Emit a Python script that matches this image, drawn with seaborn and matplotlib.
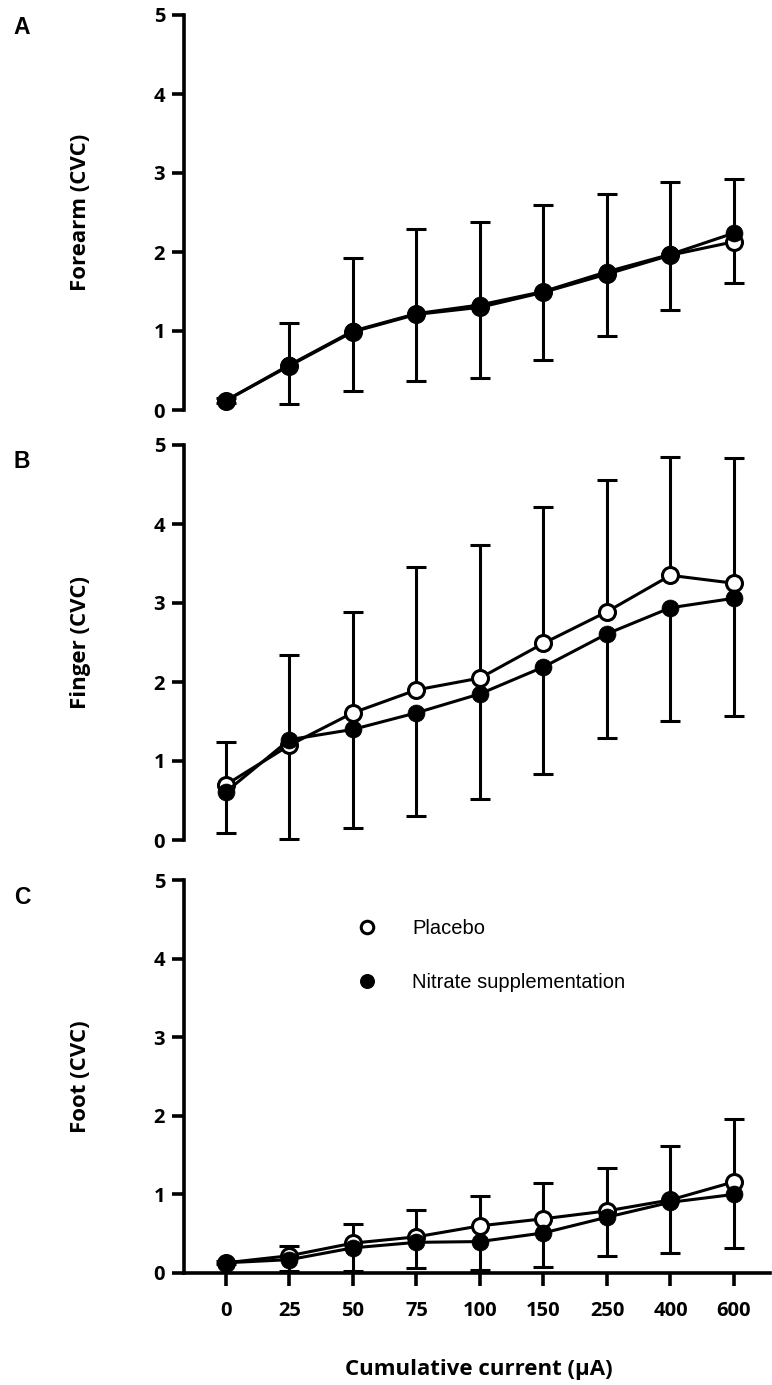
import numpy as np
import pandas as pd
import matplotlib
matplotlib.use("Agg")
import matplotlib.pyplot as plt
import seaborn as sns
from matplotlib.lines import Line2D

# ---------------- data ----------------
currents = ["0", "25", "50", "75", "100", "150", "250", "400", "600"]

forearm_placebo = [0.12, 0.56, 0.99, 1.21, 1.30, 1.49, 1.72, 1.96, 2.13]
forearm_nitrate = [0.12, 0.57, 1.00, 1.22, 1.33, 1.50, 1.75, 1.97, 2.24]
forearm_placebo_err = [0.03, 0.54, 0.94, 1.08, 1.08, 1.10, 1.01, 0.92, 0.80]
forearm_nitrate_err = [0.03, 0.49, 0.76, 0.85, 0.92, 0.87, 0.81, 0.70, 0.63]

finger_placebo = [0.70, 1.20, 1.61, 1.90, 2.05, 2.49, 2.89, 3.35, 3.25]
finger_nitrate = [0.61, 1.27, 1.40, 1.61, 1.85, 2.19, 2.61, 2.94, 3.06]
finger_placebo_err = [0.54, 1.14, 1.28, 1.55, 1.68, 1.72, 1.67, 1.50, 1.58]
finger_nitrate_err = [0.52, 1.26, 1.25, 1.31, 1.33, 1.35, 1.32, 1.43, 1.49]

foot_placebo = [0.13, 0.22, 0.38, 0.46, 0.60, 0.69, 0.79, 0.93, 1.16]
foot_nitrate = [0.13, 0.17, 0.32, 0.39, 0.40, 0.51, 0.71, 0.90, 1.00]
foot_placebo_err = [0.02, 0.12, 0.24, 0.34, 0.38, 0.45, 0.55, 0.69, 0.80]
foot_nitrate_err = [0.02, 0.15, 0.30, 0.33, 0.36, 0.43, 0.50, 0.65, 0.68]

panel_letters = ["A", "B", "C"]
ylabels = ["Forearm (CVC)", "Finger (CVC)", "Foot (CVC)"]
yticks = [0, 1, 2, 3, 4, 5]
group_names = ["Placebo", "Nitrate supplementation"]
xlabel = "Cumulative current (\u00b5A)"

# ---------------- style ----------------
sns.set_style("ticks")
plt.rcParams["font.family"] = ["Open Sans", "DejaVu Sans"]
plt.rcParams["font.weight"] = "bold"
plt.rcParams["axes.labelweight"] = "bold"
plt.rcParams["text.color"] = "black"
plt.rcParams["axes.labelcolor"] = "black"
plt.rcParams["axes.edgecolor"] = "black"
plt.rcParams["xtick.color"] = "black"
plt.rcParams["ytick.color"] = "black"

W, H = 772, 1385
fig = plt.figure(figsize=(W / 100, H / 100), dpi=100)

# axes rectangles from pixel geometry
left_px, right_px = 184, 770
panel_px = [(15, 410), (445, 840), (880, 1273)]

panels = [
    (forearm_placebo, forearm_nitrate, forearm_placebo_err, forearm_nitrate_err),
    (finger_placebo, finger_nitrate, finger_placebo_err, finger_nitrate_err),
    (foot_placebo, foot_nitrate, foot_placebo_err, foot_nitrate_err),
]

pos = np.arange(len(currents))
spine_w = 2.6
line_w = 2.2
letter_y = [28, 461, 897]

axes = []
for i, (pl, ni, pl_e, ni_e) in enumerate(panels):
    top, bot = panel_px[i]
    ax = fig.add_axes([left_px / W, (H - bot) / H, (right_px - left_px) / W, (bot - top) / H])
    axes.append(ax)

    df = pd.DataFrame({
        "pos": np.concatenate([pos, pos]),
        "CVC": np.concatenate([pl, ni]),
        "group": [group_names[0]] * len(pos) + [group_names[1]] * len(pos),
    })

    # error bars (placebo upward, nitrate downward), behind markers
    for mean, err, up in [(pl, pl_e, True), (ni, ni_e, False)]:
        zeros = np.zeros(len(err))
        yerr = [zeros, err] if up else [err, zeros]
        cont = ax.errorbar(pos, mean, yerr=yerr, fmt="none", ecolor="black",
                           elinewidth=line_w, capsize=7.2, capthick=line_w,
                           zorder=1, clip_on=False)
        for cl in cont[1]:
            cl.set_clip_on(False)
            if np.allclose(cl.get_ydata(), mean):
                cl.set_visible(False)
        for bl in cont[2]:
            bl.set_clip_on(False)

    sns.lineplot(data=df[df.group == group_names[0]], x="pos", y="CVC", ax=ax,
                 color="black", linewidth=line_w, marker="o", markersize=11.5,
                 markerfacecolor="white", markeredgecolor="black",
                 markeredgewidth=2.2, errorbar=None, legend=False,
                 zorder=3, clip_on=False)
    sns.lineplot(data=df[df.group == group_names[1]], x="pos", y="CVC", ax=ax,
                 color="black", linewidth=line_w, marker="o", markersize=12.2,
                 markerfacecolor="black", markeredgecolor="black",
                 markeredgewidth=0.5, errorbar=None, legend=False,
                 zorder=4, clip_on=False)

    ax.set_xlim(-0.661, 8.567)
    ax.set_ylim(0, 5)
    ax.set_yticks(yticks)
    ax.set_yticklabels([str(t) for t in yticks])
    ax.set_xticks(pos)
    ax.set_xticklabels(currents)

    sns.despine(ax=ax)
    for s in ("left", "bottom"):
        ax.spines[s].set_linewidth(spine_w)
        ax.spines[s].set_color("black")
    ax.tick_params(axis="y", direction="out", length=8.6, width=spine_w, pad=5,
                   labelsize=14.5, colors="black")
    ax.tick_params(axis="x", direction="out", length=9, width=spine_w, pad=11,
                   labelsize=14.5, colors="black")
    for t in ax.get_xticklabels() + ax.get_yticklabels():
        t.set_fontweight("bold")

    ax.set_ylabel(ylabels[i], fontsize=16, fontweight="bold", color="black")
    ax.yaxis.set_label_coords(-0.158, 0.5)

    if i < 2:
        ax.spines["bottom"].set_visible(False)
        ax.tick_params(axis="x", bottom=False, labelbottom=False)
        ax.set_xlabel("")
    else:
        ax.set_xlabel(xlabel, fontsize=16, fontweight="bold", color="black")
        ax.xaxis.set_label_coords(0.503, -0.218)

    fig.text(22 / W, 1 - letter_y[i] / H, panel_letters[i], ha="center", va="center",
             fontsize=16.5, fontweight="bold", color="black",
             family=["Liberation Sans", "DejaVu Sans"])

# legend in panel C
handles = [
    Line2D([], [], ls="none", marker="o", markersize=9, markerfacecolor="white",
           markeredgecolor="black", markeredgewidth=2.2),
    Line2D([], [], ls="none", marker="o", markersize=10.8, markerfacecolor="black",
           markeredgecolor="black", markeredgewidth=0),
]
leg = axes[2].legend(handles, group_names, loc="upper left",
                     bbox_to_anchor=(357 / W, 1 - 919 / H), bbox_transform=fig.transFigure,
                     frameon=False, borderpad=0, borderaxespad=0, handlelength=1.0,
                     handletextpad=1.74, labelspacing=1.72, labelcolor="black",
                     prop={"family": ["Liberation Sans", "DejaVu Sans"], "size": 14.5,
                           "weight": "normal"})

fig.savefig("out.png", dpi=100)
